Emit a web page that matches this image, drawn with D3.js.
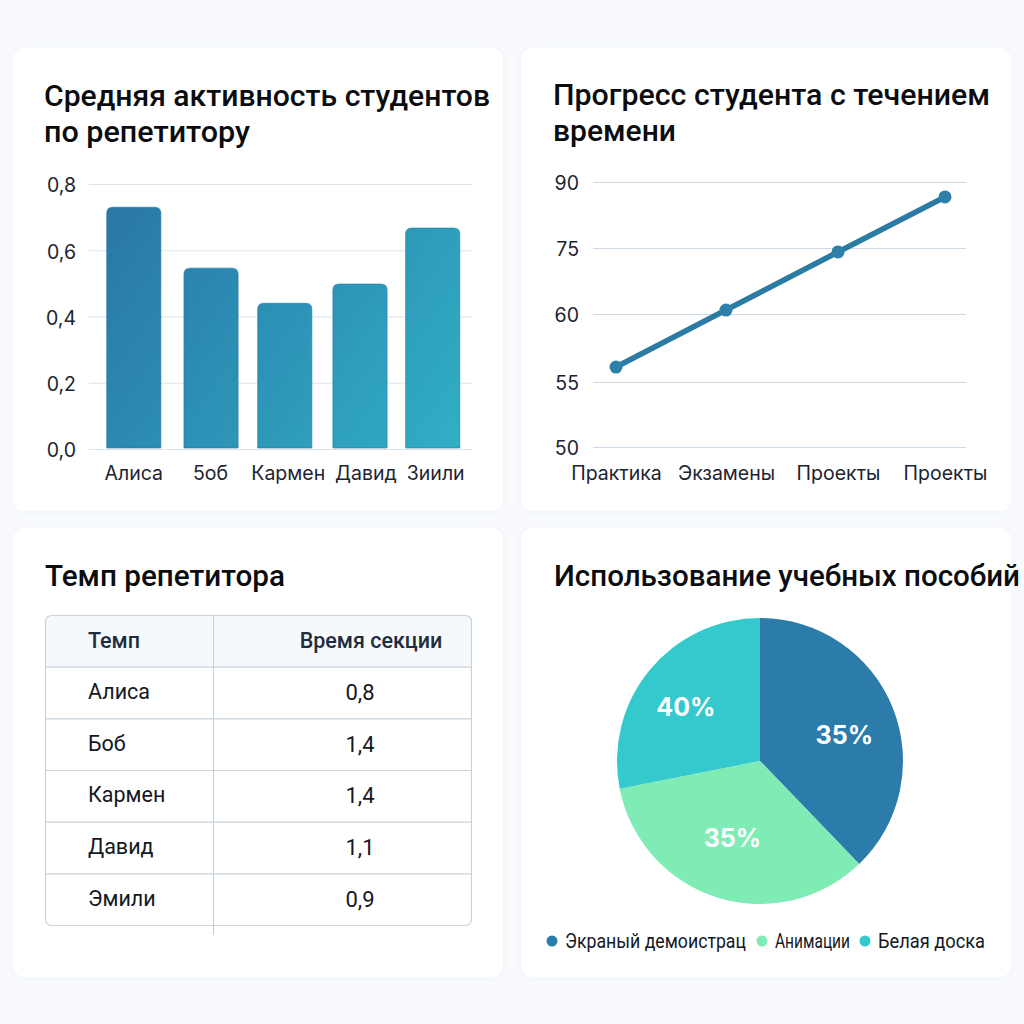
<!DOCTYPE html>
<html lang="ru">
<head>
<meta charset="utf-8">
<title>Репетиторы</title>
<script src="https://cdn.jsdelivr.net/npm/d3@7"></script>
<style>
  html, body { margin: 0; padding: 0; background: #f8fafd; }
  svg { display: block; }
  text { font-family: Roboto, "Open Sans", sans-serif; }
  .title { font-size: 30px; font-weight: 500; fill: #0a0c10; }
  .axis text { font-family: Inter, Roboto, sans-serif; font-size: 19.5px; fill: #1c2430; }
  .axis path { display: none; }
  .axis line { stroke: #dbe4ec; stroke-width: 1.2; }
  .axis.line-y line { stroke: #cddae5; }
</style>
</head>
<body>
<svg id="chart" width="1024" height="1024"></svg>
<script>
// bar chart
var tutors = ["Алиса", "5об", "Кармен", "Давид", "Зиили"];
var activity = [0.73, 0.546, 0.44, 0.498, 0.667];
var activityTicks = [0, 0.2, 0.4, 0.6, 0.8];

// line chart
var stages = ["Практика", "Экзамены", "Проекты", "Проекты"];
var progress = [56.1, 60.9, 74.1, 86.6];
var progressTicks = [50, 55, 60, 75, 90];

// table
var tableHeader = ["Темп", "Время секции"];
var tableNames = ["Алиса", "Боб", "Кармен", "Давид", "Эмили"];
var tableTimes = ["0,8", "1,4", "1,4", "1,1", "0,9"];

// pie, slice sizes do not agree with the printed labels in the picture
var aids = ["Экраный демоистрац", "Анимации", "Белая доска"];
var aidShares = [37.8, 34.1, 28.1];
var aidLabels = ["35%", "35%", "40%"];

var svg = d3.select("#chart");
var defs = svg.append("defs");

function gradient(id, x1, y1, x2, y2, from, to) {
  var g = defs.append("linearGradient").attr("id", id)
    .attr("gradientUnits", "userSpaceOnUse")
    .attr("x1", x1).attr("y1", y1).attr("x2", x2).attr("y2", y2);
  g.append("stop").attr("offset", 0).attr("stop-color", from);
  g.append("stop").attr("offset", 1).attr("stop-color", to);
}
gradient("barFill", 106, 207, 459, 449, "#2a76a7", "#30afc5");
gradient("blueFill", 760, 620, 860, 860, "#2b7cab", "#3088b3");

var shadow = defs.append("filter").attr("id", "soft")
  .attr("x", "-5%").attr("y", "-5%").attr("width", "110%").attr("height", "110%");
shadow.append("feDropShadow").attr("dx", 0).attr("dy", 1).attr("stdDeviation", 3)
  .attr("flood-color", "#64748b").attr("flood-opacity", 0.04);

// cards
var cards = [[13, 48, 463], [521, 48, 463], [13, 528, 449], [521, 528, 449]];
svg.selectAll("rect.card").data(cards).join("rect")
  .attr("class", "card")
  .attr("x", d => d[0]).attr("y", d => d[1])
  .attr("width", 490).attr("height", d => d[2])
  .attr("rx", 12).attr("fill", "#fff").attr("filter", "url(#soft)");

function title(lines, x, y, widths, size) {
  lines.forEach(function (t, i) {
    svg.append("text").attr("class", "title")
      .attr("x", x).attr("y", y + i * 36)
      .attr("textLength", widths[i]).attr("lengthAdjust", "spacingAndGlyphs")
      .style("font-size", size + "px")
      .text(t);
  });
}
title(["Средняя активность студентов", "по репетитору"], 44, 106, [446, 206], 30);
title(["Прогресс студента с течением", "времени"], 553, 105, [437, 123], 30);
title(["Темп репетитора"], 45, 586, [240], 30);
title(["Использование учебных пособий"], 554, 586, [466], 29);

// ---- bars
var barX = d3.scaleBand().domain(tutors).range([97, 469.5]).paddingInner(0.275).paddingOuter(0.13);
var barY = d3.scaleLinear().domain([0, 0.8]).range([449, 184]);
var commaFmt = v => d3.format(".1f")(v).replace(".", ",");
var barShift = [0, 2.5, 1.5, 2, 0]; // bars in the picture are not quite evenly spaced
var barNudge = [0, 2, 5, 8, 3]; // and their labels drift right

svg.append("g").attr("class", "axis")
  .attr("transform", "translate(89,0)")
  .call(d3.axisLeft(barY).tickValues(activityTicks).tickFormat(commaFmt).tickSize(-383).tickPadding(13))
  .selectAll("text").attr("dy", "0.4em");

function barPath(d, i) {
  var x = barX(tutors[i]) + barShift[i], w = barX.bandwidth(), y = barY(d), y0 = barY(0) - 1, r = 6;
  return "M" + x + "," + y0 + "V" + (y + r) + "Q" + x + "," + y + " " + (x + r) + "," + y +
    "H" + (x + w - r) + "Q" + (x + w) + "," + y + " " + (x + w) + "," + (y + r) + "V" + y0 + "Z";
}
svg.selectAll("path.bar").data(activity).join("path")
  .attr("class", "bar")
  .attr("d", barPath)
  .attr("fill", "url(#barFill)")
  .attr("stroke", "#1f7aa0").attr("stroke-opacity", 0.6).attr("stroke-width", 1);

svg.append("g").attr("class", "axis")
  .attr("transform", "translate(0,449)")
  .call(d3.axisBottom(barX).tickSize(0).tickPadding(17))
  .selectAll("text").attr("dx", (d, i) => barNudge[i]);

// ---- line, the y axis is not uniform: labels sit evenly but jump 5 / 15
var lineX = d3.scaleLinear().domain([0, 1, 2, 3]).range([616, 726, 838, 945]);
var lineY = d3.scaleLinear().domain(progressTicks).range([447, 382, 314, 248, 182]);

svg.append("g").attr("class", "axis line-y")
  .attr("transform", "translate(593,0)")
  .call(d3.axisLeft(lineY).tickValues(progressTicks).tickSize(-373).tickPadding(14))
  .selectAll("text").attr("dy", "0.37em");

var lineGen = d3.line().x((d, i) => lineX(i)).y(d => lineY(d));
svg.append("path").datum(progress)
  .attr("d", lineGen)
  .attr("fill", "none").attr("stroke", "#2b7ba5").attr("stroke-width", 5.5);
svg.selectAll("circle.pt").data(progress).join("circle")
  .attr("class", "pt")
  .attr("cx", (d, i) => lineX(i)).attr("cy", d => lineY(d))
  .attr("r", 6.5).attr("fill", "#2e80ab");

svg.append("g").attr("class", "axis")
  .attr("transform", "translate(0,447)")
  .call(d3.axisBottom(lineX).tickValues(d3.range(stages.length)).tickFormat(i => stages[i]).tickSize(0).tickPadding(19));

// ---- table
var rowY = d3.scaleBand().domain(d3.range(6)).range([615.5, 925.5]);
var tableLeft = 45.5, tableRight = 471.5, tableSplit = 213.5;

svg.append("path")
  .attr("d", "M" + tableLeft + "," + rowY(1) + "V621.5Q" + tableLeft + ",615.5 51.5,615.5H465.5Q" +
    tableRight + ",615.5 " + tableRight + ",621.5V" + rowY(1) + "Z")
  .attr("fill", "#f6f9fb");
svg.append("rect")
  .attr("x", tableLeft).attr("y", 615.5)
  .attr("width", tableRight - tableLeft).attr("height", 310).attr("rx", 6)
  .attr("fill", "none").attr("stroke", "#c9d3dc").attr("stroke-width", 1.2);
svg.selectAll("line.row").data(d3.range(1, 6)).join("line")
  .attr("class", "row")
  .attr("x1", tableLeft).attr("x2", tableRight)
  .attr("y1", d => rowY(d)).attr("y2", d => rowY(d))
  .attr("stroke", "#c9d3dc").attr("stroke-width", 1.2);
svg.append("line")
  .attr("x1", tableSplit).attr("x2", tableSplit).attr("y1", 615.5).attr("y2", 935)
  .attr("stroke", "#c9d3dc").attr("stroke-width", 1.2);

svg.append("text").attr("x", 88).attr("y", rowY(0) + rowY.bandwidth() / 2 + 7)
  .attr("font-size", 21.5).attr("font-weight", 500).attr("fill", "#1e2d42").text(tableHeader[0]);
svg.append("text").attr("x", 371).attr("y", rowY(0) + rowY.bandwidth() / 2 + 7)
  .attr("text-anchor", "middle").attr("font-size", 21.5).attr("font-weight", 500)
  .attr("fill", "#1e2d42").text(tableHeader[1]);
svg.selectAll("text.name").data(tableNames).join("text")
  .attr("class", "name").attr("x", 88)
  .attr("y", (d, i) => rowY(i + 1) + rowY.bandwidth() / 2 + 6)
  .attr("font-size", 21.5).attr("fill", "#14181f").text(d => d);
svg.selectAll("text.time").data(tableTimes).join("text")
  .attr("class", "time").attr("x", 360).attr("text-anchor", "middle")
  .attr("y", (d, i) => rowY(i + 1) + rowY.bandwidth() / 2 + 7)
  .attr("font-size", 22).attr("fill", "#14181f").text(d => d);

// ---- pie
var pieColor = d3.scaleOrdinal().domain(aids).range(["url(#blueFill)", "#7fecb6", "#33c9cd"]);
var dotColor = d3.scaleOrdinal().domain(aids).range(["#2b7ca8", "#7fecb6", "#33c9cd"]);
var arcs = d3.pie().sort(null)(aidShares);
var arc = d3.arc().innerRadius(0).outerRadius(143);
var pieG = svg.append("g").attr("transform", "translate(760,761)");

pieG.selectAll("path").data(arcs).join("path")
  .attr("d", arc)
  .attr("fill", (d, i) => pieColor(aids[i]));

var labelArc = d3.arc().innerRadius(92).outerRadius(92);
var labelShift = [[-1, 8], [0, -11], [-3, 4]];
pieG.selectAll("text").data(arcs).join("text")
  .attr("transform", function (d, i) {
    var c = labelArc.centroid(d);
    return "translate(" + (c[0] + labelShift[i][0]) + "," + (c[1] + labelShift[i][1]) + ")";
  })
  .attr("text-anchor", "middle").attr("dy", "0.36em")
  .attr("font-size", 25).attr("font-weight", 700).attr("fill", "#fff")
  .style("font-family", "Inter, Roboto, sans-serif")
  .text((d, i) => aidLabels[i]);

// legend
var legendDots = [552, 762, 865];
var legendText = [565, 775, 878];
var legendWidth = [181, 75, 107];
svg.selectAll("circle.key").data(aids).join("circle")
  .attr("class", "key")
  .attr("cx", (d, i) => legendDots[i]).attr("cy", 941).attr("r", 5.5)
  .attr("fill", d => dotColor(d));
svg.selectAll("text.key").data(aids).join("text")
  .attr("class", "key")
  .attr("x", (d, i) => legendText[i]).attr("y", 948)
  .attr("textLength", (d, i) => legendWidth[i]).attr("lengthAdjust", "spacingAndGlyphs")
  .attr("font-size", 21).attr("fill", "#14181f").text(d => d);
</script>
</body>
</html>
